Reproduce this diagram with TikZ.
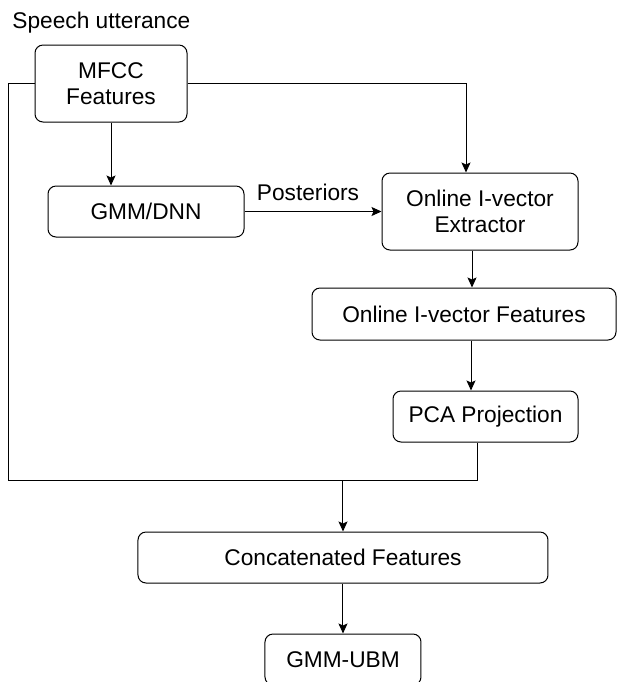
\documentclass[tikz,border=0pt]{standalone}
\usepackage{fontspec}
\setmainfont{Liberation Sans}
\usetikzlibrary{arrows.meta}
\tikzset{
  box/.style= {draw, rounded corners=4pt, align=center, inner sep=0pt, line width=0.5pt},
  flow/.style= {-{Stealth[length=5pt, width=4.5pt, inset=1pt]}, line width=0.5pt},
  link/.style= {line width=0.5pt},
}

\begin{document}
\begin{tikzpicture}[x=50pt, y=-50pt, font=\fontsize{11.35}{13}\selectfont]
  \useasboundingbox (0,0) rectangle (6.17,6.82);

  \node [anchor=base west, inner sep=0pt] (speech) at (0.12,0.28) {Speech utterance} ;
  \node [box, minimum width=76pt, minimum height=38.5pt] (mfcc) at (1.11,0.835) {MFCC\\Features} ;
  \node [box, minimum width=98pt, minimum height=25.5pt] (gmm) at (1.46,2.115) {GMM/DNN} ;
  \node [box, minimum width=98pt, minimum height=38.5pt] (ext) at (4.80,2.115) {Online I-vector\\Extractor} ;
  \node [box, minimum width=152pt, minimum height=26pt] (feat) at (4.64,3.14) {Online I-vector Features} ;
  \node [box, minimum width=92.5pt, minimum height=25.5pt] (pca) at (4.855,4.165) {PCA Projection} ;
  \node [box, minimum width=205pt, minimum height=25.5pt] (concat) at (3.43,5.575) {Concatenated Features} ;
  \node [box, minimum width=78pt, minimum height=25.5pt] (ubm) at (3.43,6.595) {GMM-UBM} ;
  \coordinate (join) at (0.09,4.80) ;

  \draw [flow] (mfcc.south) -- (mfcc.south |- gmm.north) ;
  \draw [flow] (mfcc.east) -| ([xshift=-7pt]ext.north) ;
  \draw [flow] (gmm.east) -- node [above, inner sep=5pt, xshift=-2.5pt] {Posteriors} (ext.west) ;
  \draw [flow] ([xshift=-4pt]ext.south) -- ([xshift=-4pt]ext.south |- feat.north) ;
  \draw [flow] ([xshift=3.5pt]feat.south) -- ([xshift=3.5pt]feat.south |- pca.north) ;
  \draw [link] (mfcc.west) -| (join) -| ([xshift=-4pt]pca.south) ;
  \draw [flow] (concat.north |- join) -- (concat.north) ;
  \draw [flow] (concat.south) -- (ubm.north) ;
\end{tikzpicture}
\end{document}
